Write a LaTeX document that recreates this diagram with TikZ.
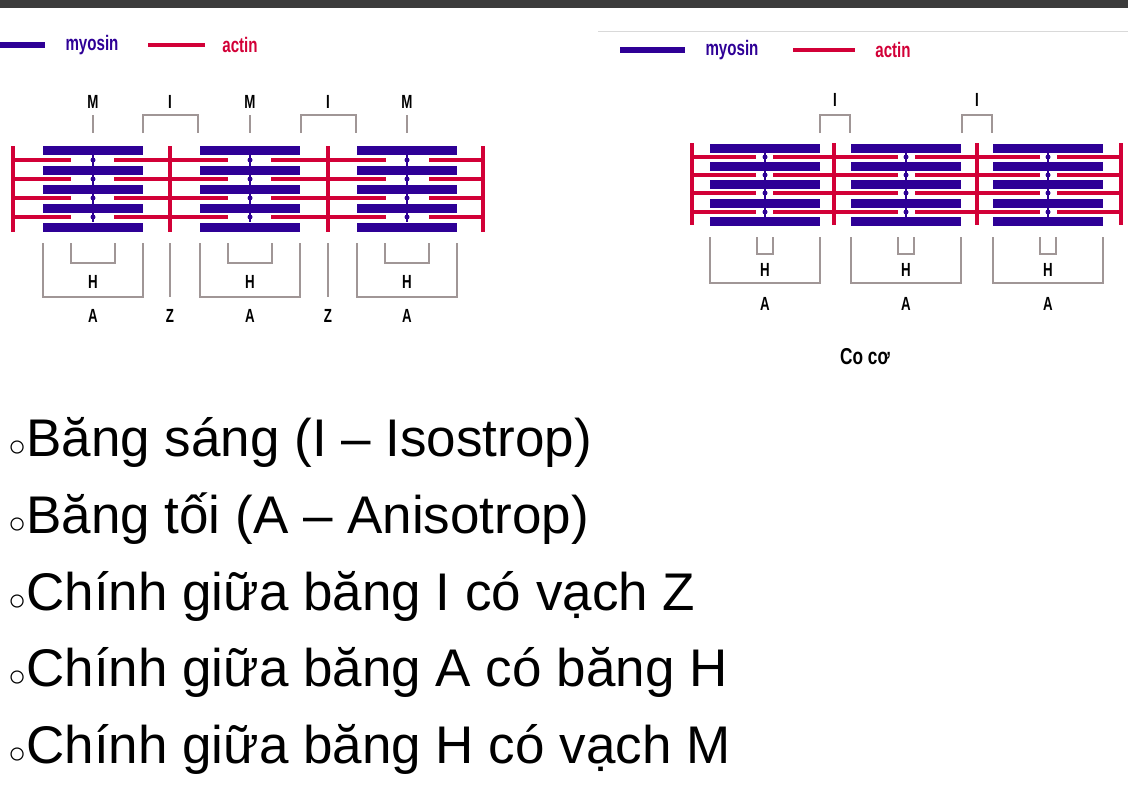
\documentclass[tikz,border=0pt]{standalone}
\usepackage{fontspec}
\setmainfont{Liberation Sans}
\definecolor{myo}{RGB}{46,0,150}
\definecolor{act}{RGB}{210,0,55}
\definecolor{brk}{RGB}{160,150,150}
\definecolor{topbar}{RGB}{60,60,60}
\begin{document}
\begin{tikzpicture}[x=1pt,y=-1pt,
  lab/.style={font=\bfseries\fontsize{19}{19}\selectfont\addfontfeature{FakeStretch=0.7}, inner sep=0pt},
  leg/.style={font=\bfseries\fontsize{21}{21}\selectfont\addfontfeature{FakeStretch=0.72}, inner sep=0pt},
  actl/.style={act, line width=4.5pt},
  zl/.style={act, line width=3.5pt},
  myol/.style={myo, line width=9pt},
  br/.style={brk, line width=2pt},
  bul/.style={anchor=west, inner sep=0pt, font=\fontsize{53}{53}\selectfont}]
\useasboundingbox (0,0) rectangle (1128,806);
\fill[topbar] (0,0) rectangle (1128,8);
\draw[gray!30, line width=1pt] (598,31) -- (1128,31);
% legends
\draw[myo, line width=6pt] (0,45) -- (45,45);
\node[leg, text=myo] (lm1) at (92,45) {myosin};
\draw[act, line width=3.5pt] (148,45) -- (205,45);
\node[leg, text=act] (la1) at (240,45) {actin};
\draw[myo, line width=6pt] (620,50) -- (685,50);
\node[leg, text=myo] (lm2) at (732,50) {myosin};
\draw[act, line width=3.5pt] (793,50) -- (855,50);
\node[leg, text=act] (la2) at (893,50) {actin};
% ===== left diagram =====
\foreach \y in {160,179,198,217} {
  \draw[actl] (13,\y) -- (71,\y);
  \draw[actl] (114,\y) -- (228,\y);
  \draw[actl] (271,\y) -- (386,\y);
  \draw[actl] (429,\y) -- (483,\y);
}
\foreach \x in {13,170,328,483} \draw[zl] (\x,146) -- (\x,232);
\foreach \c in {93,250,407} {
  \foreach \y in {150,170,189,208,227} \draw[myol] (\c-50,\y) -- (\c+50,\y);
  \draw[myo, line width=1.5pt] (\c,154) -- (\c,222);
  \foreach \y in {160,179,198,217} \fill[myo] (\c,\y) circle (2.5);
  \node[lab] at (\c,102) {M};
  \draw[br] (\c,115) -- (\c,133);
  \draw[br] (\c-50,243) -- (\c-50,297) -- (\c+50,297) -- (\c+50,243);
  \draw[br] (\c-22,243) -- (\c-22,263) -- (\c+22,263) -- (\c+22,243);
  \node[lab] at (\c,282) {H};
  \node[lab] at (\c,316) {A};
}
\foreach \x in {170,328} {
  \node[lab] at (\x,102) {I};
  \draw[br] (\x-27,133) -- (\x-27,115) -- (\x+28,115) -- (\x+28,133);
  \draw[br] (\x,243) -- (\x,297);
  \node[lab] at (\x,316) {Z};
}
% ===== right diagram =====
\foreach \y in {157,175,193,212} {
  \draw[actl] (692,\y) -- (756,\y);
  \draw[actl] (773,\y) -- (898,\y);
  \draw[actl] (915,\y) -- (1040,\y);
  \draw[actl] (1057,\y) -- (1121,\y);
}
\foreach \x in {692,834,977,1121} \draw[zl] (\x,143) -- (\x,225);
\foreach \c in {765,906,1048} {
  \foreach \y in {148,166,184,203,221} \draw[myol] (\c-55,\y) -- (\c+55,\y);
  \draw[myo, line width=1.5pt] (\c,152) -- (\c,217);
  \foreach \y in {157,175,193,212} \fill[myo] (\c,\y) circle (2.5);
  \draw[br] (\c-55,237) -- (\c-55,283) -- (\c+55,283) -- (\c+55,237);
  \draw[br] (\c-8,237) -- (\c-8,254) -- (\c+8,254) -- (\c+8,237);
  \node[lab] at (\c,270) {H};
  \node[lab] at (\c,304) {A};
}
\foreach \x in {835,977} {
  \node[lab] at (\x,100) {I};
  \draw[br] (\x-15,133) -- (\x-15,115) -- (\x+15,115) -- (\x+15,133);
}
\node[font=\bfseries\fontsize{23}{23}\selectfont\addfontfeature{FakeStretch=0.75}] (coco) at (865,357) {Co cơ};
% ===== bullets =====
\node[bul] (b1) at (8,442) {{\fontsize{30}{30}\selectfont ○}Băng sáng (I – Isostrop)};
\node[bul] (b2) at (8,519) {{\fontsize{30}{30}\selectfont ○}Băng tối (A – Anisotrop)};
\node[bul] (b3) at (8,596) {{\fontsize{30}{30}\selectfont ○}Chính giữa băng I có vạch Z};
\node[bul] (b4) at (8,672) {{\fontsize{30}{30}\selectfont ○}Chính giữa băng A có băng H};
\node[bul] (b5) at (8,749) {{\fontsize{30}{30}\selectfont ○}Chính giữa băng H có vạch M};
\end{tikzpicture}
\end{document}
